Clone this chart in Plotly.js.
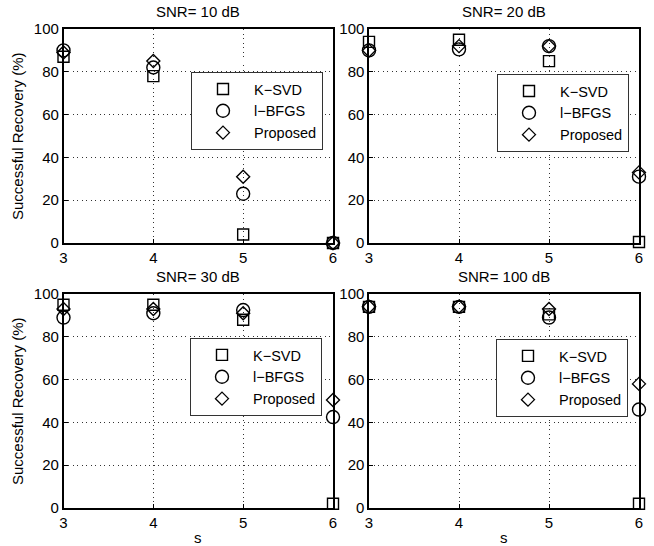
<!DOCTYPE html>
<html>
<head>
<meta charset="utf-8">
<script src="https://cdn.plot.ly/plotly-3.0.1.min.js"></script>
<style>html,body{margin:0;padding:0;background:#fff;}#chart{width:654px;height:546px;}</style>
</head>
<body>
<div id="chart"></div>
<script>
const sVals = [3, 4, 5, 6];
const seriesNames = ["K\u2212SVD", "l\u2212BFGS", "Proposed"];
const panelTitles = ["SNR= 10 dB", "SNR= 20 dB", "SNR= 30 dB", "SNR= 100 dB"];

const ksvd10 = [87, 78, 4, 0];
const lbfgs10 = [90, 82, 23, 0];
const proposed10 = [89, 85, 31, 0];

const ksvd20 = [94, 95, 85, 0.5];
const lbfgs20 = [90, 90.5, 92, 31];
const proposed20 = [90, 92, 92, 33];

const ksvd30 = [95, 95, 88, 2];
const lbfgs30 = [89, 91, 92.5, 42.5];
const proposed30 = [93, 93, 91, 50.5];

const ksvd100 = [94, 94, 90.5, 2];
const lbfgs100 = [94, 94, 89, 46];
const proposed100 = [94, 94, 93, 58];

const panels = [
  [ksvd10, lbfgs10, proposed10],
  [ksvd20, lbfgs20, proposed20],
  [ksvd30, lbfgs30, proposed30],
  [ksvd100, lbfgs100, proposed100]
];

const symbols = ["square-open", "circle-open", "diamond-open"];
const sizes = [11, 13, 10];
const FONT = "Liberation Sans, Arial, Helvetica, sans-serif";
const FS = 15;

const traces = [];
panels.forEach((p, i) => {
  const ax = i === 0 ? "" : String(i + 1);
  p.forEach((vals, j) => {
    traces.push({
      x: sVals, y: vals, type: "scatter", mode: "markers",
      name: seriesNames[j],
      xaxis: "x" + ax, yaxis: "y" + ax,
      legend: i === 0 ? "legend" : "legend" + (i + 1),
      cliponaxis: false,
      marker: {symbol: symbols[j], size: sizes[j], color: "#000", line: {color: "#000", width: 1.4}}
    });
  });
});

const W = 654, H = 546;
const xd = [[63.5 / W, 333 / W], [369 / W, 639 / W]];
const yd = [[(H - 508) / H, (H - 294) / H], [(H - 243) / H, (H - 29) / H]];

function xax(dom, anchor) {
  return {domain: dom, anchor: anchor, range: [3, 6], tickvals: [3, 4, 5, 6], ticktext: ["3","4","5","6"],
    showline: true, linecolor: "#000", linewidth: 1.6, mirror: true,
    ticks: "inside", ticklen: 4, tickcolor: "#000",
    showgrid: true, gridcolor: "#333", gridwidth: 1, griddash: "1px,3.5px", zeroline: false,
    tickfont: {family: FONT, size: FS, color: "#000"}, fixedrange: true};
}
function yax(dom, anchor) {
  return {domain: dom, anchor: anchor, range: [0, 100], tickvals: [0, 20, 40, 60, 80, 100],
    showline: true, linecolor: "#000", linewidth: 1.6, mirror: true,
    ticks: "inside", ticklen: 4, tickcolor: "#000",
    showgrid: true, gridcolor: "#333", gridwidth: 1, griddash: "1px,3.5px", zeroline: false,
    tickfont: {family: FONT, size: FS, color: "#000"}, fixedrange: true};
}

function leg(x, yTop) {
  return {x: x, y: yTop, xanchor: "left", yanchor: "top", bgcolor: "#fff", bordercolor: "#333", borderwidth: 1,
    font: {family: FONT, size: 14.5, color: "#000"}, itemsizing: "trace", tracegroupgap: 0,
    itemwidth: 52, entrywidth: 125, entrywidthmode: "pixels"};
}

const ann = [];
const centersX = [(63.5 + 333) / 2 / W, (369 + 639) / 2 / W];
panelTitles.forEach((t, i) => {
  const col = i % 2, row = i < 2 ? 1 : 0;
  ann.push({text: t, x: centersX[col], y: yd[row][1] + 7 / H, xref: "paper", yref: "paper",
    xanchor: "center", yanchor: "bottom", showarrow: false, font: {family: FONT, size: FS, color: "#000"}});
});
[0, 1].forEach(row => {
  ann.push({text: "Successful Recovery (%)", textangle: -90, x: 17 / W, y: (yd[row][0] + yd[row][1]) / 2,
    xref: "paper", yref: "paper", xanchor: "center", yanchor: "middle", showarrow: false,
    font: {family: FONT, size: FS, color: "#000"}});
});
[0, 1].forEach(col => {
  ann.push({text: "s", x: centersX[col], y: (H - 537) / H, xref: "paper", yref: "paper",
    xanchor: "center", yanchor: "middle", showarrow: false, font: {family: FONT, size: FS, color: "#000"}});
});

const layout = {
  width: W, height: H, margin: {l: 0, r: 0, t: 0, b: 0},
  paper_bgcolor: "#fff", plot_bgcolor: "#fff", showlegend: true,
  font: {family: FONT, size: FS, color: "#000"},
  xaxis: xax(xd[0], "y"), yaxis: yax(yd[1], "x"),
  xaxis2: xax(xd[1], "y2"), yaxis2: yax(yd[1], "x2"),
  xaxis3: xax(xd[0], "y3"), yaxis3: yax(yd[0], "x3"),
  xaxis4: xax(xd[1], "y4"), yaxis4: yax(yd[0], "x4"),
  legend: leg(191 / W, (H - 72) / H),
  legend2: leg(497 / W, (H - 74) / H),
  legend3: leg(190 / W, (H - 338) / H),
  legend4: leg(496 / W, (H - 339) / H),
  annotations: ann
};

Plotly.newPlot("chart", traces, layout, {staticPlot: true, displayModeBar: false});
</script>
</body>
</html>
